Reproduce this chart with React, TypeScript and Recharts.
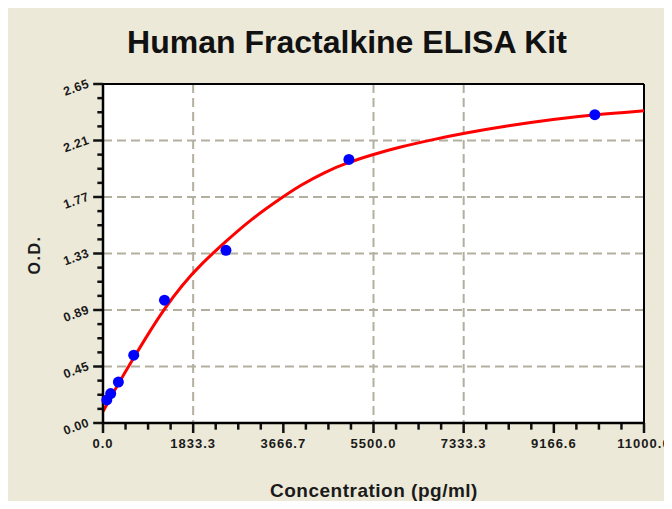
import React from "react";
import {
  ComposedChart,
  Line,
  Scatter,
  XAxis,
  YAxis,
  CartesianGrid,
  ReferenceLine,
} from "recharts";

// ---- data ----
const titleText = "Human Fractalkine ELISA Kit";
const xAxisTitle = "Concentration (pg/ml)";
const yAxisTitle = "O.D.";

const xMax = 11000;
const yMax = 2.65;
const xTickLabels = ["0.0", "1833.3", "3666.7", "5500.0", "7333.3", "9166.6", "11000.0"];
const yTickLabels = ["0.00", "0.45", "0.89", "1.33", "1.77", "2.21", "2.65"];

// standards (blue points)
const stdConc = [78, 156, 312.5, 625, 1250, 2500, 5000, 10000];
const stdOD = [0.18, 0.23, 0.32, 0.53, 0.96, 1.35, 2.06, 2.41];

// fitted curve (red line)
const curveConc = [0, 300, 625, 900, 1250, 1600, 2000, 2500, 3000, 3667, 4000, 4500, 5000, 5500, 6000, 6700, 7333, 8250, 9166, 10000, 11000];
const curveOD = [0.09, 0.3, 0.51, 0.685, 0.895, 1.075, 1.245, 1.42, 1.59, 1.77, 1.855, 1.96, 2.04, 2.1, 2.155, 2.215, 2.265, 2.325, 2.375, 2.41, 2.44];

const points = stdConc.map((x, i) => ({ x, y: stdOD[i] }));
const curve = curveConc.map((x, i) => ({ x, y: curveOD[i] }));

const SUB = 4;
const NMAJ = xTickLabels.length - 1;
const xTicksAll = Array.from({ length: NMAJ * SUB + 1 }, (_, i) => (i * xMax) / (NMAJ * SUB));
const yTicksAll = Array.from({ length: NMAJ * SUB + 1 }, (_, i) => (i * yMax) / (NMAJ * SUB));
const xTicksMajor = xTicksAll.filter((_, i) => i % SUB === 0);
const yTicksMajor = yTicksAll.filter((_, i) => i % SUB === 0);

// tick-mark lengths expressed in data units of the other axis
const xTickLenMajor = 0.078; // O.D. units below the x axis
const xTickLenMinor = 0.052;
const yTickLenMajor = 200; // pg/ml units left of the y axis
const yTickLenMinor = 115;

const FONT = "'Liberation Sans', Arial, Helvetica, sans-serif";
const BG = "#ECE9D8";

const XTick = (props: any) => {
  const { x, y, payload } = props;
  const i = Math.round(payload.value / (xMax / (NMAJ * SUB)));
  const major = i % SUB === 0;
  if (!major) return <g />;
  return (
    <text
      x={x}
      y={y + 25}
      textAnchor="middle"
      fontFamily={FONT}
      fontWeight="bold"
      fontSize={13}
      letterSpacing={1}
      fill="#1a1a1a"
    >
      {xTickLabels[i / SUB]}
    </text>
  );
};

const YTick = (props: any) => {
  const { x, y, payload } = props;
  const i = Math.round(payload.value / (yMax / (NMAJ * SUB)));
  const major = i % SUB === 0;
  if (!major) return <g />;
  const tx = x - 13;
  const ty = y + 3;
  return (
    <text
      x={tx}
      y={ty}
      textAnchor="end"
      transform={`rotate(-20 ${tx} ${ty})`}
      fontFamily={FONT}
      fontWeight="bold"
      fontSize={12.5}
      letterSpacing={0.5}
      fill="#1a1a1a"
    >
      {yTickLabels[i / SUB]}
    </text>
  );
};

const Dot = (p: any) => <circle cx={p.cx} cy={p.cy} r={5.5} fill="#0000ff" />;

export default function App() {
  const W = 664;
  const H = 504;
  return (
    <div
      style={{
        position: "relative",
        width: W,
        height: H,
        background: BG,
        marginTop: -3,
        marginBottom: -8,
      }}
    >
      <ComposedChart
        width={W}
        height={H}
        margin={{ top: 79, right: 28, bottom: 0, left: 0 }}
      >
        <CartesianGrid
          xAxisId="g"
          yAxisId="g"
          fill="#ffffff"
          fillOpacity={1}
          stroke="#b3af9f"
          strokeWidth={2}
          strokeDasharray="9 5"
        />
        <XAxis
          xAxisId="g"
          type="number"
          dataKey="x"
          domain={[0, xMax]}
          ticks={xTicksMajor}
          hide
          allowDataOverflow
        />
        <YAxis
          yAxisId="g"
          type="number"
          dataKey="y"
          domain={[0, yMax]}
          ticks={yTicksMajor}
          hide
          allowDataOverflow
        />
        <XAxis
          type="number"
          dataKey="x"
          domain={[0, xMax]}
          ticks={xTicksAll}
          interval={0}
          height={86}
          tickSize={0}
          tickMargin={0}
          tickLine={false}
          tick={<XTick />}
          axisLine={{ stroke: "#000", strokeWidth: 2.5 }}
        />
        <YAxis
          type="number"
          dataKey="y"
          domain={[0, yMax]}
          ticks={yTicksAll}
          interval={0}
          width={95}
          tickSize={0}
          tickMargin={0}
          tickLine={false}
          tick={<YTick />}
          axisLine={{ stroke: "#000", strokeWidth: 2.5 }}
        />
        {xTicksAll.map((v, i) => (
          <ReferenceLine
            key={`xt${i}`}
            segment={[
              { x: v, y: 0 },
              { x: v, y: -(i % SUB === 0 ? xTickLenMajor : xTickLenMinor) },
            ]}
            ifOverflow="visible"
            stroke="#111"
            strokeWidth={2.5}
          />
        ))}
        {yTicksAll.map((v, i) => (
          <ReferenceLine
            key={`yt${i}`}
            segment={[
              { x: 0, y: v },
              { x: -(i % SUB === 0 ? yTickLenMajor : yTickLenMinor), y: v },
            ]}
            ifOverflow="visible"
            stroke="#111"
            strokeWidth={2.5}
          />
        ))}
        <ReferenceLine y={yMax} stroke="#000" strokeWidth={2} />
        <ReferenceLine x={xMax} stroke="#000" strokeWidth={2} />
        <Scatter data={points} dataKey="y" fill="#0000ff" shape={<Dot />} isAnimationActive={false} />
        <Line
          data={curve}
          dataKey="y"
          type="basis"
          stroke="#ff0000"
          strokeWidth={3}
          dot={false}
          activeDot={false}
          isAnimationActive={false}
        />
      </ComposedChart>
      <svg
        width={W}
        height={H}
        style={{ position: "absolute", left: 0, top: 0, pointerEvents: "none" }}
      >
        <text
          x={339}
          y={48}
          textAnchor="middle"
          fontFamily={FONT}
          fontWeight="bold"
          fontSize={32}
          fill="#111"
        >
          {titleText}
        </text>
        <text
          x={366}
          y={492}
          textAnchor="middle"
          fontFamily={FONT}
          fontWeight="bold"
          fontSize={19}
          letterSpacing={0.5}
          fill="#1a1a1a"
        >
          {xAxisTitle}
        </text>
        <text
          transform="translate(32 250) rotate(-90)"
          textAnchor="middle"
          fontFamily={FONT}
          fontWeight="bold"
          fontSize={16}
          letterSpacing={1.5}
          fill="#1a1a1a"
        >
          {yAxisTitle}
        </text>
      </svg>
    </div>
  );
}
